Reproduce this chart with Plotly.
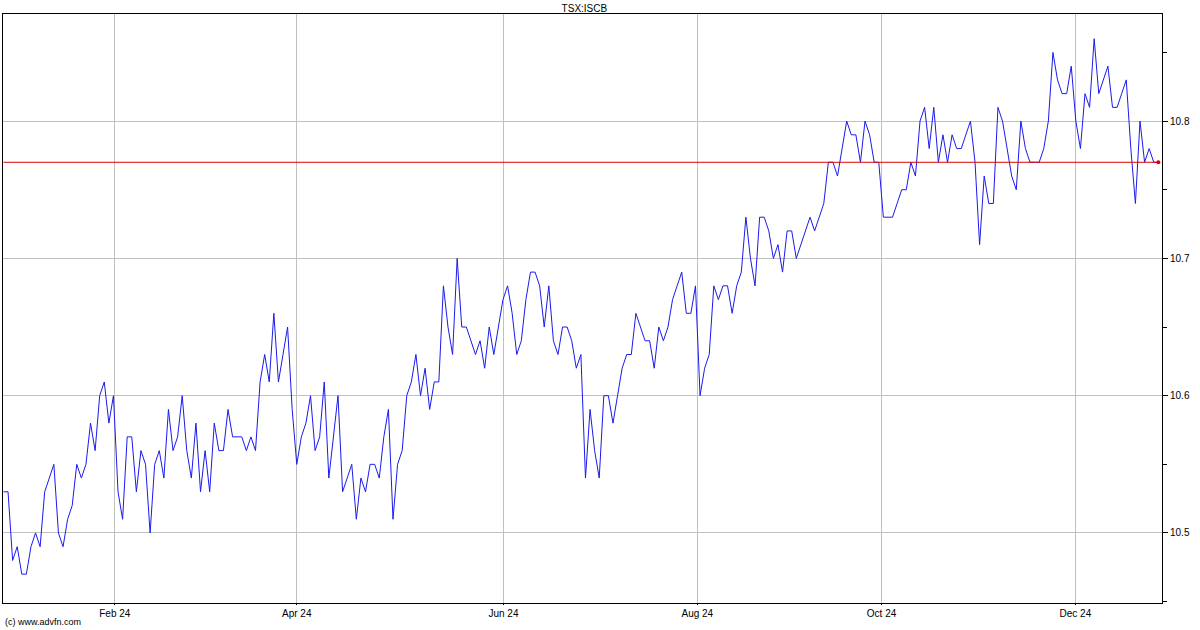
import plotly.graph_objects as go

# Daily closing prices (TSX:ISCB), trading-day order
prices = [
    10.53, 10.53, 10.48, 10.49, 10.47, 10.47, 10.49, 10.50, 10.49, 10.53,
    10.54, 10.55, 10.50, 10.49, 10.51, 10.52, 10.55, 10.54, 10.55, 10.58,
    10.56, 10.60, 10.61, 10.58, 10.60, 10.53, 10.51, 10.57, 10.57, 10.53,
    10.56, 10.55, 10.50, 10.55, 10.56, 10.54, 10.59, 10.56, 10.57, 10.60,
    10.56, 10.54, 10.58, 10.53, 10.56, 10.53, 10.58, 10.56, 10.56, 10.59,
    10.57, 10.57, 10.57, 10.56, 10.57, 10.56, 10.61, 10.63, 10.61, 10.66,
    10.61, 10.63, 10.65, 10.59, 10.55, 10.57, 10.58, 10.60, 10.56, 10.57,
    10.61, 10.54, 10.57, 10.60, 10.53, 10.54, 10.55, 10.51, 10.54, 10.53,
    10.55, 10.55, 10.54, 10.57, 10.59, 10.51, 10.55, 10.56, 10.60, 10.61,
    10.63, 10.60, 10.62, 10.59, 10.61, 10.61, 10.68, 10.65, 10.63, 10.70,
    10.65, 10.65, 10.64, 10.63, 10.64, 10.62, 10.65, 10.63, 10.65, 10.67,
    10.68, 10.66, 10.63, 10.64, 10.67, 10.69, 10.69, 10.68, 10.65, 10.68,
    10.64, 10.63, 10.65, 10.65, 10.64, 10.62, 10.63, 10.54, 10.59, 10.56,
    10.54, 10.60, 10.60, 10.58, 10.60, 10.62, 10.63, 10.63, 10.66, 10.65,
    10.64, 10.64, 10.62, 10.65, 10.64, 10.65, 10.67, 10.68, 10.69, 10.66,
    10.66, 10.68, 10.60, 10.62, 10.63, 10.68, 10.67, 10.68, 10.68, 10.66,
    10.68, 10.69, 10.73, 10.70, 10.68, 10.73, 10.73, 10.72, 10.70, 10.71,
    10.69, 10.72, 10.72, 10.70, 10.71, 10.72, 10.73, 10.72, 10.73, 10.74,
    10.77, 10.77, 10.76, 10.78, 10.80, 10.79, 10.79, 10.77, 10.80, 10.79,
    10.77, 10.77, 10.73, 10.73, 10.73, 10.74, 10.75, 10.75, 10.77, 10.76,
    10.80, 10.81, 10.78, 10.81, 10.77, 10.79, 10.77, 10.79, 10.78, 10.78,
    10.79, 10.80, 10.77, 10.71, 10.76, 10.74, 10.74, 10.81, 10.80, 10.78,
    10.76, 10.75, 10.80, 10.78, 10.77, 10.77, 10.77, 10.78, 10.80, 10.85,
    10.83, 10.82, 10.82, 10.84, 10.80, 10.78, 10.82, 10.81, 10.86, 10.82,
    10.83, 10.84, 10.81, 10.81, 10.82, 10.83, 10.78, 10.74, 10.80, 10.77,
    10.78, 10.77, 10.77,
]
days = list(range(len(prices)))

# Month tick labels and their trading-day positions
month_labels = ["Feb 24", "Apr 24", "Jun 24", "Aug 24", "Oct 24", "Dec 24"]
month_positions = [24.3, 64.0, 109.1, 151.4, 191.6, 233.9]

y_tick_vals = [10.5, 10.6, 10.7, 10.8]
y_tick_text = ["10.5", "10.6", "10.7", "10.8"]

last_price = prices[-1]

fig = go.Figure()

fig.add_trace(go.Scatter(
    x=days, y=prices, mode="lines",
    line=dict(color="#1a1aee", width=1),
    hoverinfo="skip", showlegend=False,
))

fig.add_trace(go.Scatter(
    x=[days[0], days[-1]], y=[last_price, last_price], mode="lines",
    line=dict(color="#dd0000", width=1),
    hoverinfo="skip", showlegend=False,
))
fig.add_trace(go.Scatter(
    x=[days[-1]], y=[last_price], mode="markers",
    marker=dict(color="#dd0000", size=4),
    hoverinfo="skip", showlegend=False,
))

font_family = "Liberation Sans, Arial, sans-serif"

fig.update_layout(
    width=1200, height=630,
    margin=dict(l=3, r=38, t=14, b=27),
    paper_bgcolor="white", plot_bgcolor="white",
    font=dict(family=font_family, size=10, color="black"),
    title=dict(text="TSX:ISCB", x=0.487, xanchor="center", y=0.986, yanchor="middle",
               font=dict(size=10, color="black", family=font_family)),
    xaxis=dict(
        range=[-0.1, 252.8],
        tickmode="array", tickvals=month_positions, ticktext=month_labels,
        showgrid=True, gridcolor="#c0c0c0", gridwidth=1,
        showline=True, linecolor="black", linewidth=1, mirror=True,
        ticks="outside", ticklen=1, tickcolor="black",
        zeroline=False, tickfont=dict(size=10),
    ),
    yaxis=dict(
        range=[10.449, 10.878], side="right",
        tickmode="array", tickvals=y_tick_vals, ticktext=y_tick_text,
        showgrid=True, gridcolor="#c0c0c0", gridwidth=1,
        showline=True, linecolor="black", linewidth=1, mirror=True,
        ticks="outside", ticklen=5, tickcolor="black",
        minor=dict(dtick=0.05, tick0=10.45, ticks="outside", ticklen=4,
                   tickcolor="black", showgrid=False),
        zeroline=False, tickfont=dict(size=10),
    ),
    annotations=[dict(
        text="(c) www.advfn.com", xref="paper", yref="paper",
        x=0.0, y=-0.021, xanchor="left", yanchor="top",
        showarrow=False, font=dict(size=9, color="black", family=font_family),
    )],
)

fig.write_html(
    "out.html",
    config={"displayModeBar": False, "staticPlot": True},
    post_script="document.body.style.margin='0';document.body.style.padding='0';",
)
